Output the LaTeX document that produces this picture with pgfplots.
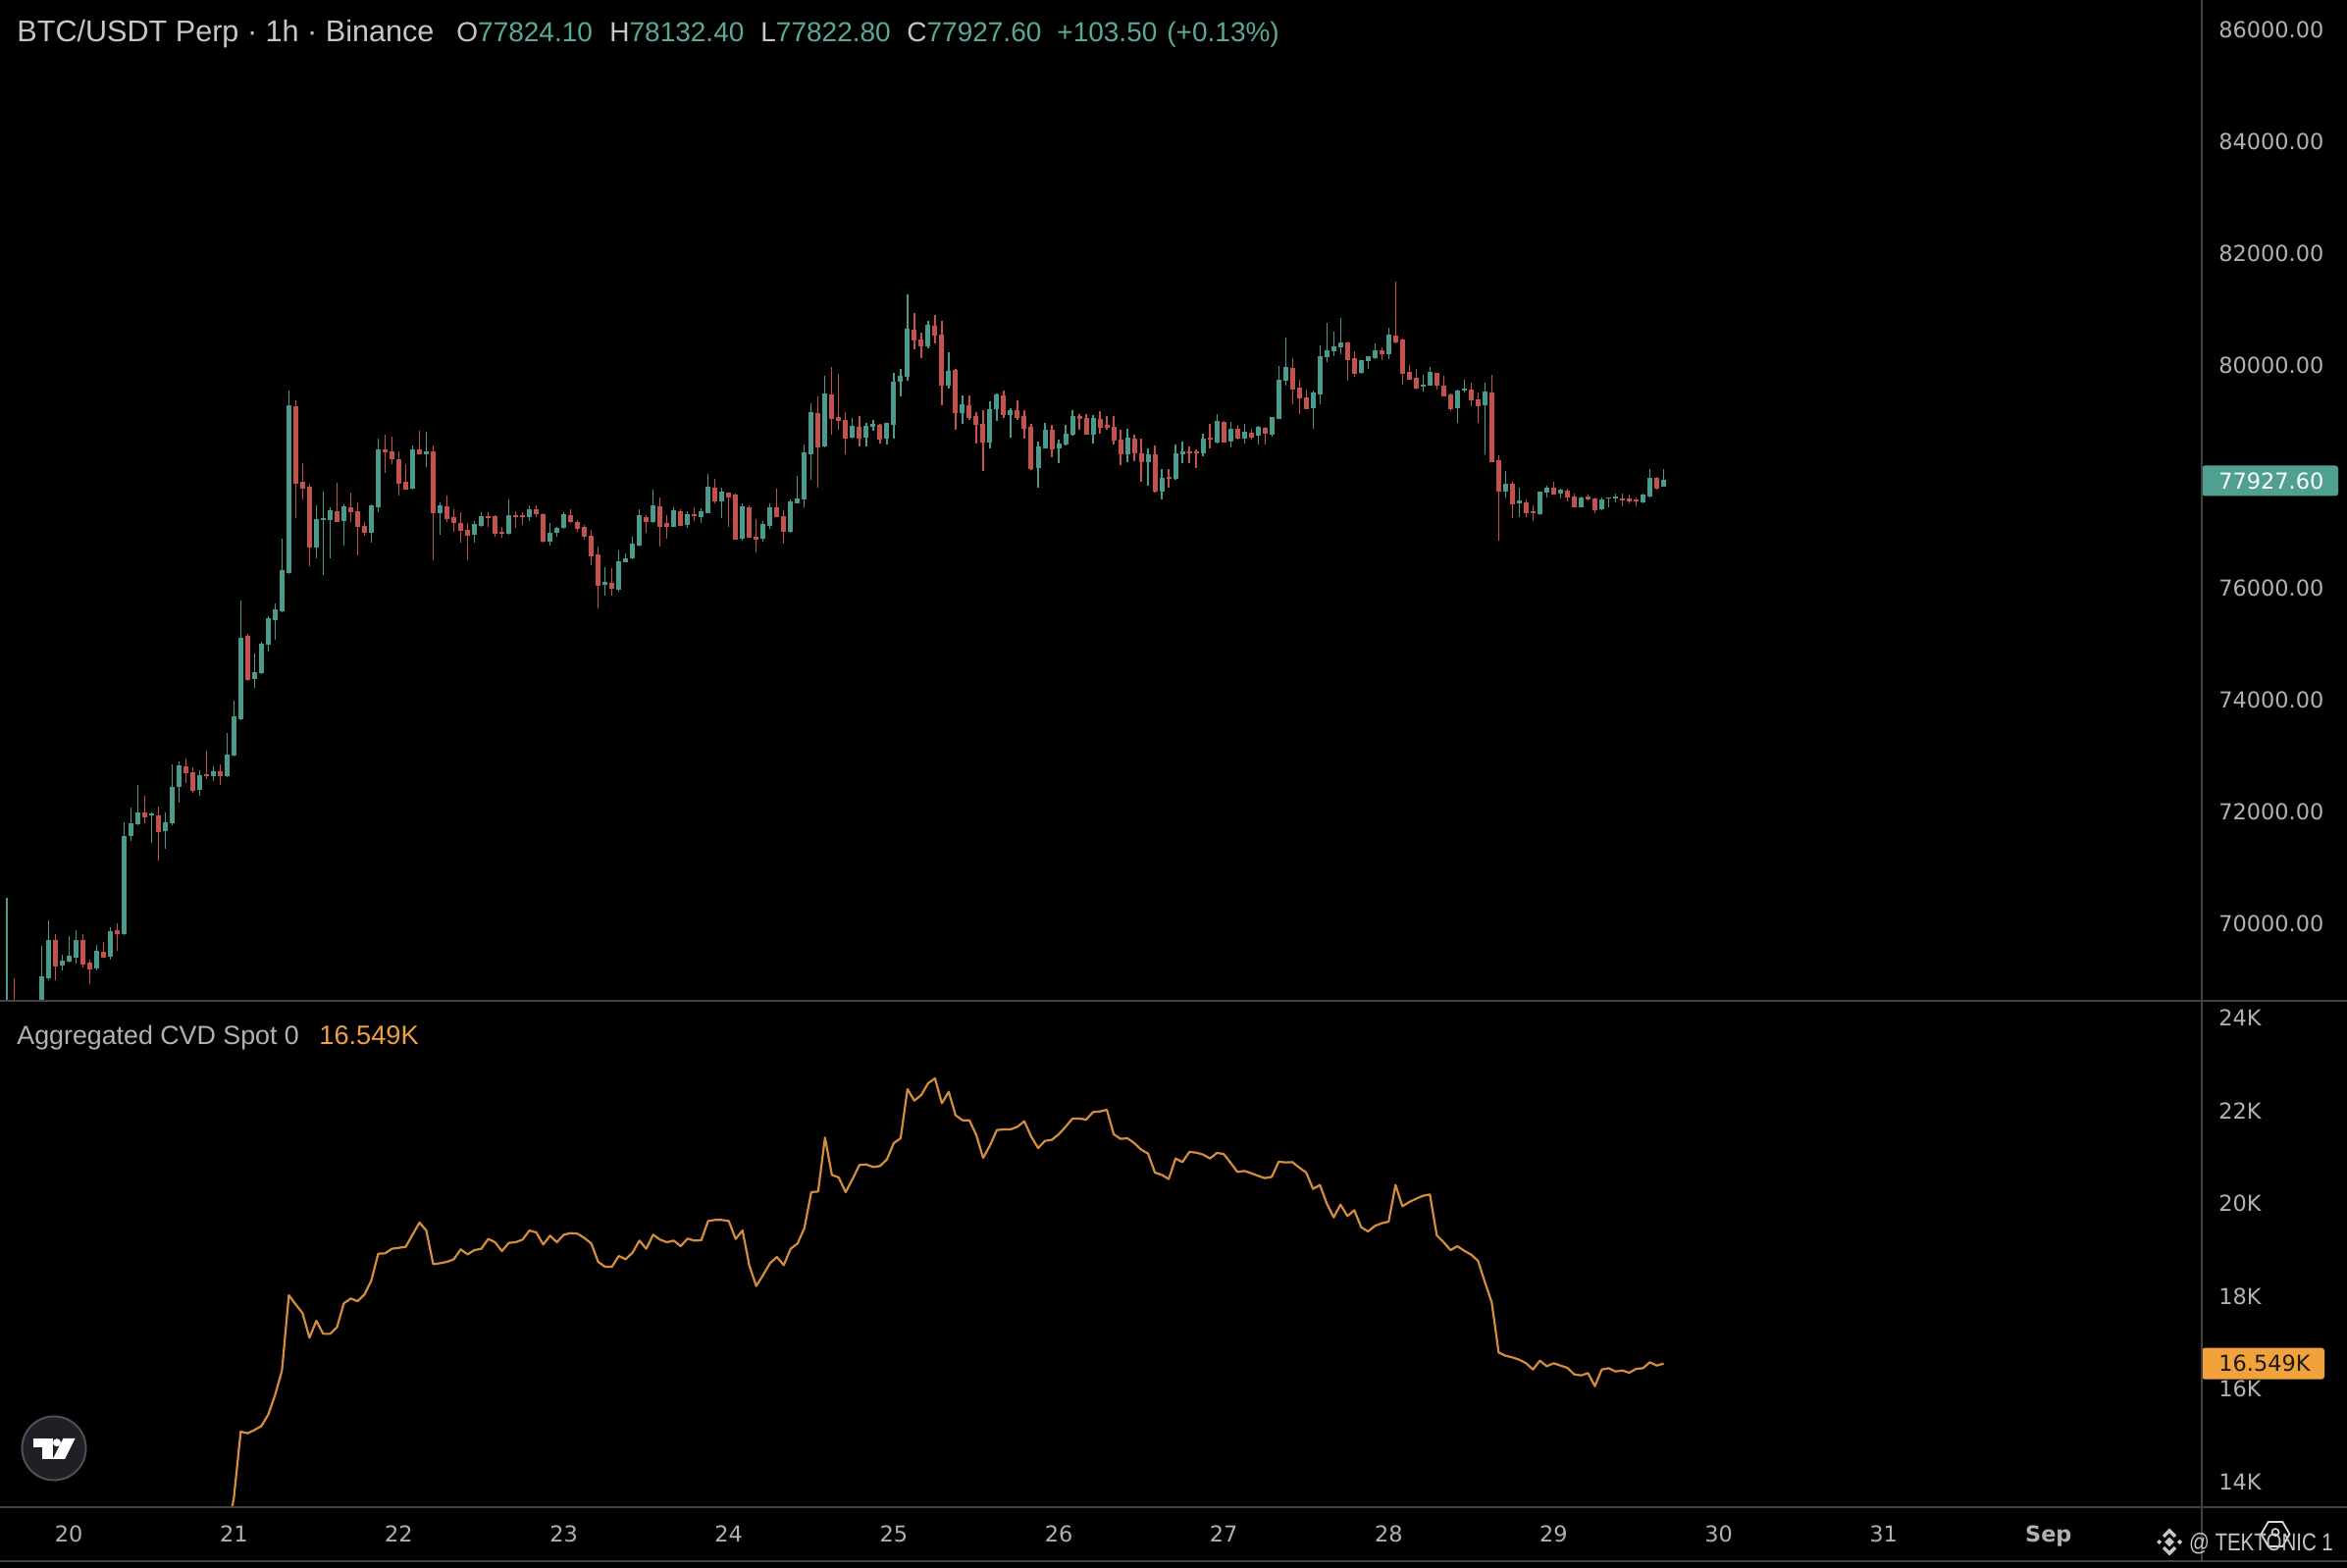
\documentclass[border=0pt]{standalone}
\usepackage{fontspec}
\setmainfont{Liberation Sans}
\newfontfamily\dejavu{DejaVu Sans}
\usepackage{pgfplots}
\pgfplotsset{compat=1.18}
\usepackage{pgfplotstable}
\usetikzlibrary{shapes.geometric}

\definecolor{upc}{RGB}{76,154,140}
\definecolor{dnc}{RGB}{196,82,76}
\definecolor{axisgray}{RGB}{178,178,178}
\definecolor{titlegray}{RGB}{198,198,198}
\definecolor{ohlc}{RGB}{92,168,154}
\definecolor{cvdc}{RGB}{212,140,62}
\definecolor{cvdlab}{RGB}{240,160,64}
\definecolor{sepc}{RGB}{66,66,66}
\definecolor{boxteal}{RGB}{80,160,146}
\definecolor{boxorange}{RGB}{242,162,58}
\definecolor{logofill}{RGB}{30,32,38}
\definecolor{logoedge}{RGB}{78,78,84}

\newcommand{\axf}{\dejavu\fontsize{11.2pt}{13pt}\selectfont}

\pgfplotstableread{
x o h l c
-9 68200 70460 68000 68400
-8 68500 69016 67900 68100
-7 68100 68400 67900 68250
-6 68250 68450 68000 68150
-5 68150 68500 68050 68400
-4 68400 69602 68300 69039
-3 69016 70058 68990 69700
-2 69700 69815 68980 69244
-1 69244 69434 69168 69320
0 69320 69777 69300 69411
1 69396 69875 69282 69700
2 69700 69815 69206 69282
3 69305 69358 68917 69191
4 69191 69625 69168 69495
5 69495 69663 69381 69396
6 69411 69929 69358 69853
7 69875 70005 69510 69815
8 69815 71807 69800 71564
9 71564 72081 71473 71792
10 71777 72477 71754 71982
11 71982 72287 71792 71906
12 71944 71982 71450 71960
13 71944 72096 71123 71655
14 71655 71982 71336 71807
15 71792 72857 71754 72439
16 72439 72895 72172 72819
17 72819 72948 72515 72705
18 72705 72796 72340 72385
19 72385 72743 72287 72644
20 72667 73100 72591 72644
21 72644 72819 72553 72720
22 72720 72857 72477 72644
23 72644 73404 72629 73009
24 73009 73983 72994 73693
25 73655 75785 73633 75101
26 75154 75192 74340 74378
27 74378 74835 74226 74492
28 74492 75050 74469 75002
29 74987 75500 74872 75458
30 75428 75732 75078 75610
31 75595 76888 75580 76317
32 76280 79535 76264 79261
33 79261 79360 77268 77877
34 77915 78242 77588 77801
35 77816 77877 76394 76736
36 76736 77496 76546 77230
37 77230 77725 76242 77253
38 77230 77458 76546 77382
39 77382 77892 77192 77207
40 77207 77511 76774 77458
41 77458 77710 77192 77382
42 77382 77535 76584 77116
43 77116 77192 76949 77002
44 77002 77511 76827 77481
45 77458 78675 77360 78485
46 78485 78751 78067 78447
47 78447 78713 78219 78318
48 78318 78447 77664 77892
49 77915 78219 77763 77786
50 77786 78561 77763 78485
51 78485 78827 78394 78409
52 78409 78805 78181 78447
53 78462 78561 76508 77359
54 77353 77547 76961 77470
55 77470 77664 77195 77254
56 77283 77412 77020 77178
57 77178 77371 76815 77037
58 77049 77166 76510 76961
59 76961 77213 76815 77137
60 77119 77371 77096 77283
61 77295 77371 77108 77271
62 77295 77312 76932 76990
63 77020 77108 76902 76990
64 76979 77588 76961 77295
65 77312 77388 77078 77295
66 77312 77371 77137 77283
67 77271 77488 77213 77412
68 77412 77488 77283 77342
69 77330 77342 76826 76844
70 76844 77166 76768 76990
71 76990 77108 76932 77078
72 77078 77371 77061 77312
73 77312 77412 77166 77195
74 77195 77225 77020 77078
75 77096 77137 76873 76932
76 76943 77049 76416 76592
77 76610 76756 75643 76053
78 76065 76375 75878 76100
79 76100 76358 75878 76007
80 75983 76686 75948 76475
81 76475 76627 76463 76534
82 76534 76932 76522 76785
83 76768 77412 76745 77295
84 77283 77312 76990 77195
85 77195 77763 77178 77470
86 77470 77623 76756 77119
87 77166 77312 76885 77108
88 77108 77447 77096 77388
89 77388 77412 77119 77137
90 77137 77388 77078 77312
91 77324 77459 77213 77300
92 77283 77430 77178 77371
93 77353 78044 77342 77810
94 77810 77956 77517 77564
95 77564 77798 77254 77722
96 77716 77722 77108 77646
97 77681 77705 76873 76885
98 76885 77529 76861 77459
99 77459 77488 76902 76920
100 76932 77236 76650 76885
101 76885 77213 76844 77137
102 77119 77517 77061 77447
103 77447 77781 77271 77283
104 77295 77400 76803 77020
105 77020 77588 77002 77547
106 77529 78015 77517 77605
107 77588 78583 77447 78425
108 78407 79315 77939 79145
109 79145 79438 77810 78542
110 78542 79813 78525 79479
111 79479 79965 78759 79052
112 79069 79848 78835 79010
113 79010 79157 78407 78700
114 78700 79052 78688 78893
115 78893 79087 78542 78700
116 78700 78970 78542 78893
117 78893 79010 78817 78935
118 78935 78952 78601 78677
119 78677 78970 78583 78952
120 78935 79860 78677 79696
121 79696 79930 79438 79801
122 79790 81265 79713 80633
123 80633 80925 80281 80445
124 80457 80574 80123 80340
125 80340 80785 80299 80709
126 80709 80902 80387 80533
127 80545 80785 79286 79637
128 79637 80223 79579 79889
129 79906 79930 78835 79145
130 79145 79450 78952 79286
131 79286 79450 79010 79069
132 79087 79157 78601 78935
133 78952 79186 78103 78618
134 78618 79345 78513 79204
135 79204 79497 78993 79462
136 79462 79538 79052 79110
137 79110 79227 78700 79186
138 79186 79362 79010 79069
139 79087 79186 78677 78876
140 78893 78952 78115 78150
141 78150 78630 77810 78525
142 78513 78970 78501 78835
143 78835 78935 78349 78501
144 78501 78659 78249 78583
145 78571 78923 78560 78759
146 78759 79186 78735 79069
147 79087 79128 78835 79052
148 79052 79128 78747 78759
149 78759 79098 78601 79040
150 79040 79169 78776 78893
151 78923 79087 78835 78893
152 78893 79087 78571 78659
153 78659 78835 78208 78407
154 78407 78864 78267 78688
155 78688 78747 78278 78425
156 78425 78688 77916 78267
157 78267 78501 77840 78396
158 78396 78560 77722 77740
159 77740 78132 77588 77974
160 77998 78132 77810 77974
161 77956 78571 77939 78407
162 78396 78630 78249 78437
163 78454 78542 78249 78425
164 78454 78484 78162 78425
165 78425 78776 78366 78677
166 78700 78952 78513 78677
167 78618 79128 78601 78981
168 78981 78993 78618 78630
169 78630 78981 78525 78852
170 78852 78935 78659 78688
171 78688 78952 78601 78794
172 78794 78864 78659 78718
173 78735 78911 78571 78876
174 78876 78893 78583 78776
175 78759 79069 78718 79052
176 79040 79988 79028 79731
177 79713 80492 79637 79947
178 79947 80123 79303 79578
179 79596 79742 79128 79420
180 79420 79567 79210 79227
181 79227 79537 78864 79496
182 79479 80357 79303 80152
183 80141 80750 80047 80258
184 80240 80592 80164 80328
185 80316 80843 80199 80398
186 80398 80416 79713 80105
187 80123 80240 79789 79860
188 79860 80094 79848 80082
189 80064 80152 79930 80141
190 80123 80387 80105 80258
191 80258 80316 80094 80199
192 80199 80668 80105 80533
193 80533 81499 80387 80416
194 80457 80474 79655 79860
195 79871 80006 79731 79754
196 79772 79930 79567 79596
197 79614 79830 79520 79637
198 79637 79965 79625 79860
199 79860 79860 79555 79637
200 79637 79813 79438 79450
201 79479 79496 79169 79227
202 79227 79555 78969 79537
203 79537 79731 79508 79567
204 79567 79684 79262 79379
205 79379 79508 78969 79274
206 79274 79684 78407 79508
207 79508 79830 78267 78278
208 78290 78384 76861 77740
209 77740 78103 77634 77868
210 77880 77915 77254 77517
211 77529 77798 77283 77564
212 77546 77587 77283 77353
213 77388 77488 77213 77353
214 77330 77740 77312 77722
215 77722 77833 77623 77798
216 77798 77915 77681 77693
217 77693 77781 77605 77751
218 77751 77781 77564 77646
219 77646 77693 77447 77459
220 77459 77646 77447 77623
221 77646 77681 77576 77605
222 77605 77623 77353 77412
223 77412 77634 77400 77576
224 77605 77634 77459 77623
225 77605 77705 77546 77634
226 77617 77693 77470 77587
227 77605 77681 77529 77564
228 77587 77623 77470 77564
229 77546 77693 77529 77664
230 77646 78132 77623 77974
231 77974 77997 77763 77798
232 77824.1 78132.4 77822.8 77927.6
}\candles

\pgfplotstableread{
x y
23 12870
24 13650
25 15082
26 15047
27 15117
28 15202
29 15449
30 15872
31 16400
32 18022
33 17824
34 17634
35 17105
36 17472
37 17190
38 17190
39 17331
40 17846
41 17951
42 17895
43 18036
44 18339
45 18917
46 18924
47 19023
48 19044
49 19065
50 19326
51 19587
52 19417
53 18691
54 18712
55 18741
56 18797
57 19009
58 18903
59 18994
60 19023
61 19234
62 19164
63 18973
64 19150
65 19164
66 19220
67 19417
68 19375
69 19114
70 19305
71 19164
72 19326
73 19361
74 19347
75 19255
76 19135
77 18741
78 18635
79 18635
80 18868
81 18797
82 18938
83 19199
84 19023
85 19326
86 19220
87 19164
88 19199
89 19079
90 19241
91 19199
92 19206
93 19622
94 19643
95 19643
96 19622
97 19234
98 19417
99 18656
100 18219
101 18459
102 18712
103 18846
104 18670
105 19023
106 19135
107 19467
108 20242
109 20256
110 21419
111 20616
112 20559
113 20242
114 20524
115 20827
116 20841
117 20785
118 20806
119 20947
120 21299
121 21405
122 22463
123 22216
124 22336
125 22589
126 22695
127 22159
128 22406
129 21899
130 21793
131 21793
132 21476
133 20982
134 21250
135 21581
136 21596
137 21596
138 21652
139 21772
140 21440
141 21194
142 21349
143 21370
144 21490
145 21652
146 21828
147 21828
148 21807
149 21969
150 21983
151 22018
152 21490
153 21391
154 21405
155 21299
156 21158
157 21074
158 20665
159 20616
160 20524
161 20968
162 20891
163 21109
164 21095
165 21053
166 20968
167 21088
168 21067
169 20877
170 20679
171 20700
172 20651
173 20595
174 20545
175 20573
176 20898
177 20884
178 20891
179 20771
180 20665
181 20313
182 20397
183 19995
184 19699
185 19974
186 19728
187 19854
188 19488
189 19396
190 19516
191 19573
192 19608
193 20397
194 19939
195 20031
196 20101
197 20165
198 20193
199 19312
200 19164
201 18994
202 19079
203 18980
204 18896
205 18762
206 18304
207 17866
208 16788
209 16718
210 16682
211 16633
212 16556
213 16421
214 16612
215 16492
216 16556
217 16506
218 16457
219 16316
220 16295
221 16344
222 16062
223 16421
224 16450
225 16379
226 16400
227 16351
228 16436
229 16450
230 16577
231 16506
232 16549
}\cvd

\pgfplotsset{
  tvaxis/.style={
    anchor=south west, scale only axis, width=1122pt,
    xmin=-10.02, xmax=310.3,
    axis line style={draw=none}, tick style={draw=none},
    major tick length=0pt,
    scaled x ticks=false, scaled y ticks=false,
    ytick pos=right, yticklabel pos=right,
    yticklabel style={anchor=west, inner sep=0pt, xshift=8.5pt, font=\axf, text=axisgray},
    clip mode=individual,
  },
  upf/.style={restrict expr to domain={\thisrow{c}-\thisrow{o}}{0:100000}},
  dnf/.style={restrict expr to domain={\thisrow{c}-\thisrow{o}}{-100000:-0.001}},
}

\begin{document}
\begin{tikzpicture}
\fill[black] (0pt,0pt) rectangle (1196pt,799pt);

% ---------- price panel ----------
\begin{axis}[tvaxis, at={(0pt,289pt)}, height=510pt,
  ymin=68616, ymax=86536, xtick=\empty,
  ytick={70000,72000,74000,76000,80000,82000,84000,86000},
  yticklabels={70000.00,72000.00,74000.00,76000.00,80000.00,82000.00,84000.00,86000.00},
]
% wicks
\addplot[upc, line width=0.65pt, quiver={u=0, v=\thisrow{h}-\thisrow{l}}, upf] table[x=x, y=l] {\candles};
\addplot[dnc, line width=0.65pt, quiver={u=0, v=\thisrow{h}-\thisrow{l}}, dnf] table[x=x, y=l] {\candles};
% bodies
\addplot[upc, line width=2.5pt, quiver={u=0, v=\thisrow{c}-\thisrow{o}}, upf] table[x=x, y=o] {\candles};
\addplot[dnc, line width=2.5pt, quiver={u=0, v=\thisrow{c}-\thisrow{o}}, dnf] table[x=x, y=o] {\candles};
\addplot[upc, only marks, mark=-, mark size=1.25pt, mark options={line width=0.6pt}, upf] table[x=x, y=c] {\candles};
\addplot[dnc, only marks, mark=-, mark size=1.25pt, mark options={line width=0.6pt}, dnf] table[x=x, y=c] {\candles};
% last price label
\fill[boxteal, rounded corners=1.5pt] ([yshift=-7.75pt]axis cs:310.3,77927.6) rectangle ([xshift=69.5pt,yshift=7.75pt]axis cs:310.3,77927.6);
\node[anchor=west, inner sep=0pt, font=\axf, text=white] at ([xshift=8.5pt]axis cs:310.3,77927.6) {77927.60};
\end{axis}

% ---------- CVD panel ----------
\begin{axis}[tvaxis, at={(0pt,31pt)}, height=258pt,
  ymin=13455, ymax=24366,
  xtick={0,24,48,72,96,120,144,168,192,216,240,264,288},
  xticklabels={20,21,22,23,24,25,26,27,28,29,30,31,\textbf{Sep}},
  xticklabel style={anchor=base, inner sep=0pt, yshift=-18pt, font=\axf, text=axisgray},
  ytick={14000,16000,18000,20000,22000,24000},
  yticklabels={14K,16K,18K,20K,22K,24K},
]
\addplot[cvdc, line width=1.1pt, line join=round] table[x=x, y=y] {\cvd};
\fill[boxorange, rounded corners=1.5pt] ([yshift=-8pt]axis cs:310.3,16549) rectangle ([xshift=62.5pt,yshift=8pt]axis cs:310.3,16549);
\node[anchor=west, inner sep=0pt, font=\axf, text=black!90] at ([xshift=8.5pt]axis cs:310.3,16549) {16.549K};
\end{axis}

% ---------- separators ----------
\draw[sepc, line width=0.8pt] (0pt,289pt) -- (1196pt,289pt);
\draw[sepc, line width=0.8pt] (0pt,31pt) -- (1196pt,31pt);
\draw[sepc, line width=0.8pt] (0pt,3.5pt) -- (1196pt,3.5pt);
\draw[sepc, line width=0.8pt] (1122pt,3.5pt) -- (1122pt,799pt);

% ---------- header ----------
\node[anchor=base west, inner sep=0pt, text=titlegray, font=\fontsize{15.3pt}{18pt}\selectfont] at (8.5pt,777.5pt) {BTC/USDT Perp · 1h · Binance};
\begin{scope}[every node/.style={anchor=base west, inner sep=0pt, font=\fontsize{14pt}{17pt}\selectfont}]
\node at (232.5pt,777.5pt) {\textcolor{titlegray}{O}\textcolor{ohlc}{77824.10}};
\node at (310.5pt,777.5pt) {\textcolor{titlegray}{H}\textcolor{ohlc}{78132.40}};
\node at (387.5pt,777.5pt) {\textcolor{titlegray}{L}\textcolor{ohlc}{77822.80}};
\node at (462pt,777.5pt) {\textcolor{titlegray}{C}\textcolor{ohlc}{77927.60}};
\node[text=ohlc] at (538.5pt,777.5pt) {+103.50};
\node[text=ohlc] at (594.5pt,777.5pt) {(+0.13\%)};
\end{scope}

% ---------- CVD legend ----------
\node[anchor=base west, inner sep=0pt, text=axisgray, font=\fontsize{13.4pt}{16pt}\selectfont] at (8.5pt,266.5pt) {Aggregated CVD Spot 0};
\node[anchor=base west, inner sep=0pt, text=cvdlab, font=\fontsize{13.6pt}{16pt}\selectfont] at (162.5pt,266.5pt) {16.549K};

% ---------- TradingView logo ----------
\fill[logofill] (27.5pt,61pt) circle (16.75pt);
\draw[logoedge, line width=1pt] (27.5pt,61pt) circle (16.25pt);
\fill[white] (16.9pt,61.3pt) rectangle (26.8pt,66pt);
\fill[white] (21.6pt,55.5pt) rectangle (26.8pt,66pt);
\fill[white] (29pt,63.9pt) circle (2pt);
\fill[white] (32.2pt,66pt) -- (38.3pt,66pt) -- (33pt,55.5pt) -- (26.9pt,55.5pt) -- cycle;

% ---------- watermark ----------
\begin{scope}[shift={(1105.5pt,13.25pt)}, color=titlegray]
\fill (0pt,2.4pt) -- (2.4pt,0pt) -- (0pt,-2.4pt) -- (-2.4pt,0pt) -- cycle;
\fill (-5.2pt,1.3pt) -- (-3.9pt,0pt) -- (-5.2pt,-1.3pt) -- (-6.5pt,0pt) -- cycle;
\fill (5.2pt,1.3pt) -- (6.5pt,0pt) -- (5.2pt,-1.3pt) -- (3.9pt,0pt) -- cycle;
\fill (0pt,7pt) -- (3.6pt,3.4pt) -- (2.4pt,2.2pt) -- (0pt,4.6pt) -- (-2.4pt,2.2pt) -- (-3.6pt,3.4pt) -- cycle;
\fill (0pt,-7pt) -- (3.6pt,-3.4pt) -- (2.4pt,-2.2pt) -- (0pt,-4.6pt) -- (-2.4pt,-2.2pt) -- (-3.6pt,-3.4pt) -- cycle;
\end{scope}
\node[draw=white!85!black, line width=0.9pt, regular polygon, regular polygon sides=6, minimum size=14.5pt, inner sep=0pt] at (1159.5pt,17.25pt) {};
\draw[white!85!black, line width=0.8pt] (1159.5pt,18.2pt) circle (1.8pt);
\node[anchor=base west, inner sep=0pt, text=titlegray] at (1115.3pt,8.7pt) {\scalebox{0.82}[1]{\fontsize{12.5pt}{14pt}\selectfont @ TEKTONIC 1}};

\pgfresetboundingbox
\path (0pt,0pt) rectangle (1196pt,799pt);
\end{tikzpicture}
\end{document}
